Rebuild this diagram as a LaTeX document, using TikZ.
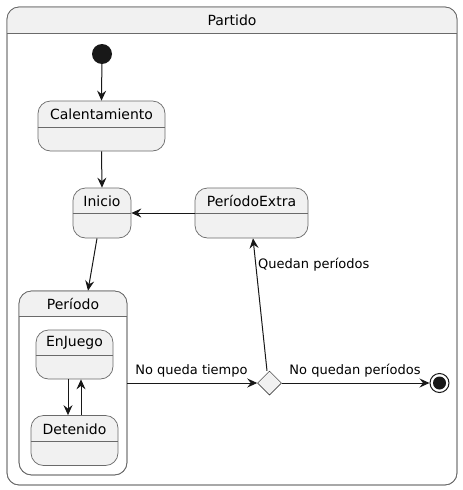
\documentclass[tikz,border=0pt]{standalone}
\usepackage{fontspec}
\setmainfont{DejaVu Sans}
\usetikzlibrary{arrows.meta,shapes.geometric,calc}
\definecolor{stfill}{HTML}{F1F1F1}
\definecolor{stline}{HTML}{6A6A6A}
\definecolor{arr}{HTML}{181818}
\tikzset{
  x=1pt,y=-1pt,
  statebox/.style={draw=stline,fill=stfill,line width=0.7pt,rounded corners=12.5pt,inner sep=0pt,rectangle},
  sttext/.style={font=\fontsize{14}{16}\selectfont,inner sep=0pt,anchor=center},
  lbl/.style={font=\fontsize{13}{15}\selectfont,inner sep=0pt,text=black},
  sep/.style={draw=stline,line width=0.7pt},
  conn/.style={draw=arr,line width=1pt,-{Stealth[length=10pt,width=9pt,inset=3.5pt]}},
}
\begin{document}
\begin{tikzpicture}
\useasboundingbox (0,0) rectangle (463,490);
% outer composite
\node[statebox,fill=white,rounded corners=12pt,minimum width=450pt,minimum height=478pt] (partido) at (232,246) {};
\fill[stfill,rounded corners=12pt] (7.35,7.35) -- (456.65,7.35) -- (456.65,33) -- (7.35,33) -- cycle;
\fill[stfill] (7.35,20) rectangle (456.65,33);
\draw[stline,line width=0.7pt,rounded corners=12pt] (7,485) -- (7,7) -- (457,7) -- (457,485) -- cycle;
\draw[sep] (7,33) -- (457,33);
\node[sttext] (partidot) at (232,20) {Partido};

% initial
\node[circle,fill=arr,minimum size=20pt,inner sep=0pt] (init) at (102,54) {};

% Calentamiento
\node[statebox,minimum width=127pt,minimum height=50pt] (cal) at (101.5,126) {};
\draw[sep] (cal.west |- 0,127) -- (cal.east |- 0,127);
\node[sttext] (calt) at (101.5,114) {Calentamiento};

% Inicio
\node[statebox,minimum width=58pt,minimum height=50pt] (ini) at (102,213) {};
\draw[sep] (ini.west |- 0,213) -- (ini.east |- 0,213);
\node[sttext] (init2) at (102,201) {Inicio};

% PeriodoExtra
\node[statebox,minimum width=113pt,minimum height=50pt] (pe) at (251.5,213) {};
\draw[sep] (pe.west |- 0,213) -- (pe.east |- 0,213);
\node[sttext] (pet) at (251.5,201) {PeríodoExtra};

% Periodo composite
\node[statebox,fill=white,minimum width=108pt,minimum height=184pt] (per) at (73,383) {};
\fill[stfill,rounded corners=12pt] (19.35,291.35) -- (126.65,291.35) -- (126.65,316.7) -- (19.35,316.7) -- cycle;
\fill[stfill] (19.35,304) rectangle (126.65,316.7);
\draw[stline,line width=0.7pt,rounded corners=12.5pt] (19,475) -- (19,291) -- (127,291) -- (127,475) -- cycle;
\draw[sep] (19,316.7) -- (127,316.7);
\node[sttext] (pert) at (73,304) {Período};

% EnJuego
\node[statebox,minimum width=77pt,minimum height=49pt] (ej) at (74.5,354.5) {};
\draw[sep] (ej.west |- 0,355) -- (ej.east |- 0,355);
\node[sttext] (ejt) at (74.5,343) {EnJuego};

% Detenido
\node[statebox,minimum width=87pt,minimum height=50pt] (det) at (74.5,440.5) {};
\draw[sep] (det.west |- 0,441) -- (det.east |- 0,441);
\node[sttext] (dett) at (74.5,429) {Detenido};

% choice
\node[diamond,draw=arr,fill=stfill,line width=0.5pt,minimum width=24pt,minimum height=24pt,inner sep=0pt,aspect=1] (dia) at (269.5,383) {};

% final
\node[circle,draw=arr,line width=1pt,fill=white,minimum size=19pt,inner sep=0pt] (fin) at (439.5,383) {};
\node[circle,fill=arr,minimum size=13pt,inner sep=0pt] (finin) at (fin.center) {};

% connectors
\draw[conn] (init) -- (cal.north);
\draw[conn] (cal.south) -- (ini.north);
\draw[conn] (pe.west) -- (ini.east);
\draw[conn] ([xshift=-5pt]ini.south) -- ([xshift=15pt]per.north);
\draw[conn] ([xshift=-6.5pt]ej.south) -- ([xshift=-6.5pt]det.north);
\draw[conn] ([xshift=6.5pt]det.north) -- ([xshift=6.5pt]ej.south);
\draw[conn] (per.east) -- (dia.west);
\draw[conn] ([xshift=-2.5pt]dia.north) -- ([xshift=1.5pt]pe.south);
\draw[conn] (dia.east) -- (fin.west);

% labels
\node[lbl] (l1) at (191.5,371) {No queda tiempo};
\node[lbl] (l2) at (355,371) {No quedan períodos};
\node[lbl,anchor=west] (l3) at (258,265) {Quedan períodos};
\end{tikzpicture}
\end{document}
